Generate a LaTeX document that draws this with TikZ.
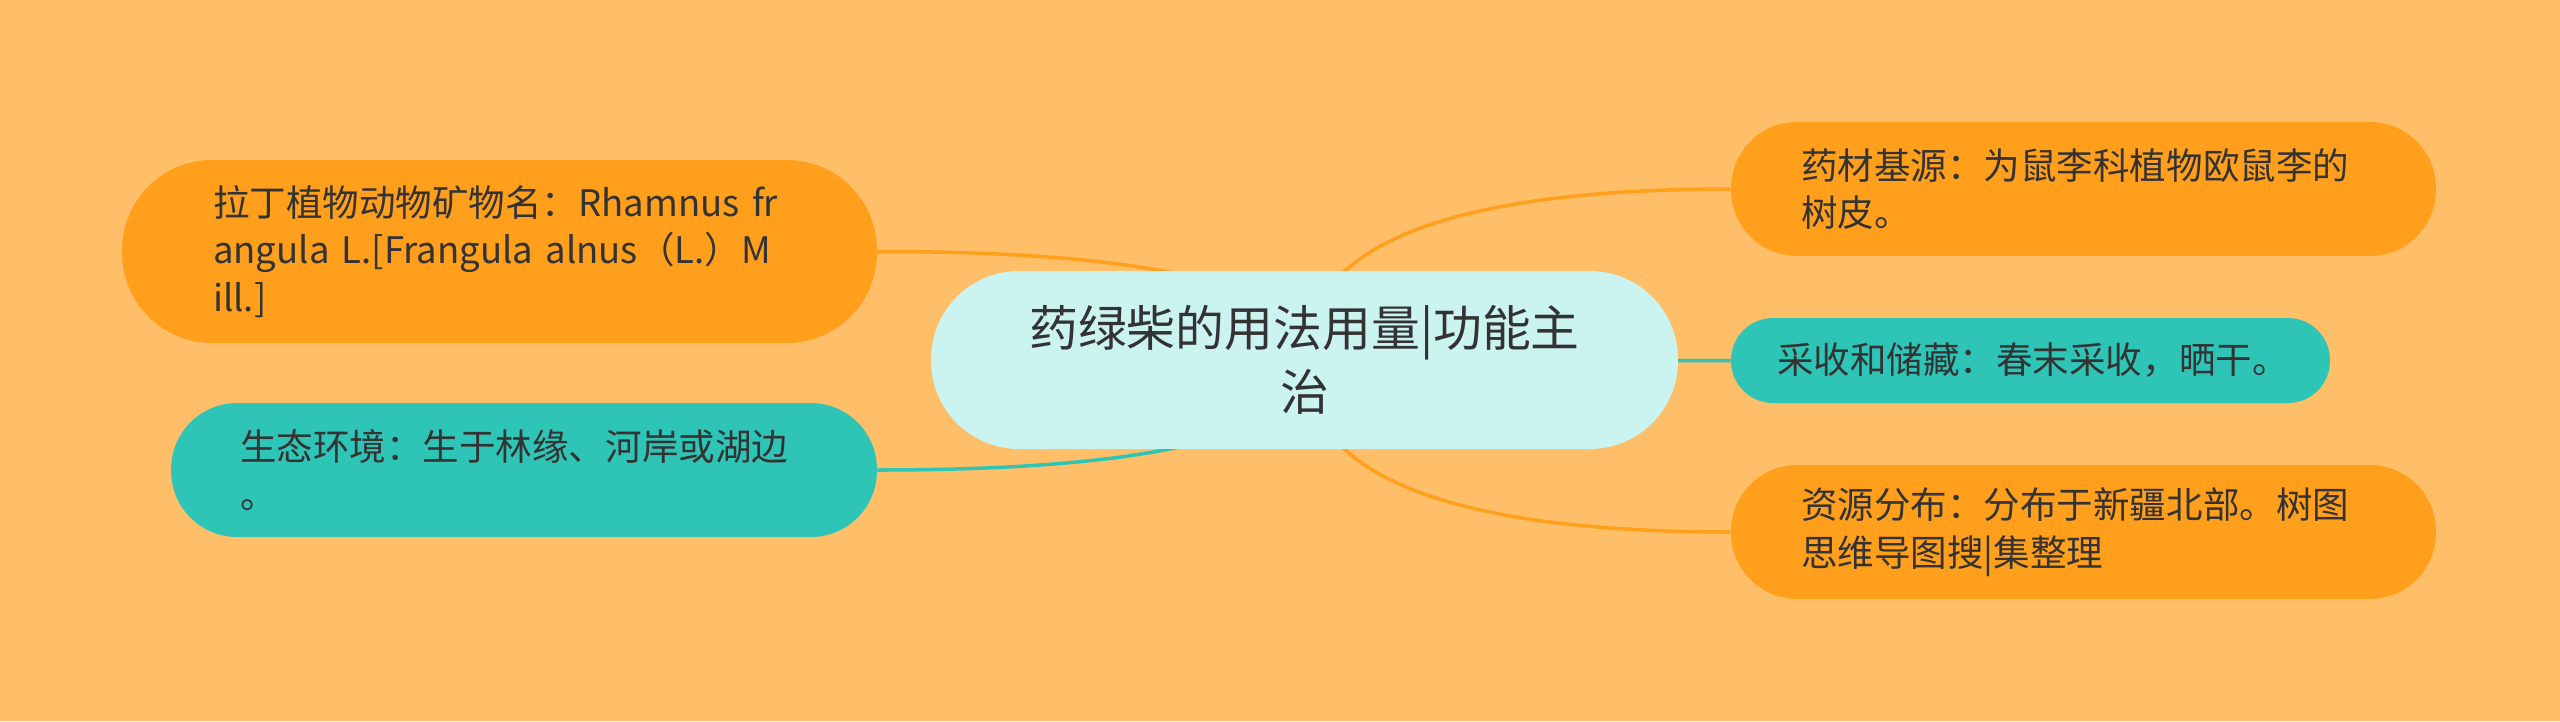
\documentclass[tikz,border=0pt]{standalone}
\usepackage{fontspec}
\setmainfont{Noto Sans CJK SC}
\usetikzlibrary{calc,backgrounds}
\definecolor{bgsand}{HTML}{FFBF69}
\definecolor{leaforange}{HTML}{FF9F1C}
\definecolor{leafteal}{HTML}{2EC4B6}
\definecolor{rootmint}{HTML}{CBF3F0}
\definecolor{inkgray}{HTML}{333333}
\def\branch[#1](#2)(#3){\draw[#1] (#2) .. controls ($(#2)!0.667!(#2|-#3)$) and ($(#3)!0.667!(#2|-#3)$) .. (#3);}
\tikzset{
	leaf/.style={text=inkgray, font=\fontsize{20.8}{27}\selectfont, align=left, inner ysep=0pt},
	root/.style={text=inkgray, fill=rootmint, font=\fontsize{27.8}{36.4}\selectfont, align=center, inner ysep=0pt},
	link/.style={line width=2pt}
}

\begin{document}
\begin{tikzpicture}[x=0.02cm, y=-0.02cm]
			%%%%% START %%%%%
			
			\useasboundingbox (0, 0) rectangle (2560, 721);
			
			\node[root, minimum height=3.56cm, text width=12.94cm, inner xsep=1cm, rounded corners=1.76cm] (main) at (1304.5, 360) {药绿柴的用法用量|功能主\\治};
			
			\node[leaf, fill=leaforange, minimum height=3.66cm, text width=11.46cm, inner xsep=1.82cm, rounded corners=1.8cm] (latin) at (499.5, 251.5) {拉丁植物动物矿物名：Rhamnus fr\\angula L.[Frangula alnus（L.）M\\ill.]};
			\node[leaf, fill=leafteal, minimum height=2.68cm, text width=11.36cm, inner xsep=1.38cm, rounded corners=1.32cm] (habitat) at (524, 470) {生态环境：生于林缘、河岸或湖边\\。};
			
			\node[leaf, fill=leaforange, minimum height=2.68cm, text width=11.3cm, inner xsep=1.4cm, rounded corners=1.32cm] (source) at (2083.5, 189) {药材基源：为鼠李科植物欧鼠李的\\树皮。};
			\node[leaf, fill=leafteal, minimum height=1.7cm, text width=10.14cm, inner xsep=0.92cm, rounded corners=0.84cm] (harvest) at (2030.5, 360.5) {采收和储藏：春末采收，晒干。};
			\node[leaf, fill=leaforange, minimum height=2.68cm, text width=11.3cm, inner xsep=1.4cm, rounded corners=1.32cm] (distrib) at (2083.5, 532) {资源分布：分布于新疆北部。树图\\思维导图搜|集整理};
			
			\begin{scope}[on background layer]
			\fill[bgsand] (0, 0) rectangle (2560, 721);
			\branch[link, leaforange](main.center)(latin.east)
			\branch[link, leafteal](main.center)(habitat.east)
			\branch[link, leaforange](main.center)(source.west)
			\branch[link, leafteal](main.center)(harvest.west)
			\branch[link, leaforange](main.center)(distrib.west)
			\end{scope}
			
			%%%%% END %%%%%
\end{tikzpicture}
\end{document}
